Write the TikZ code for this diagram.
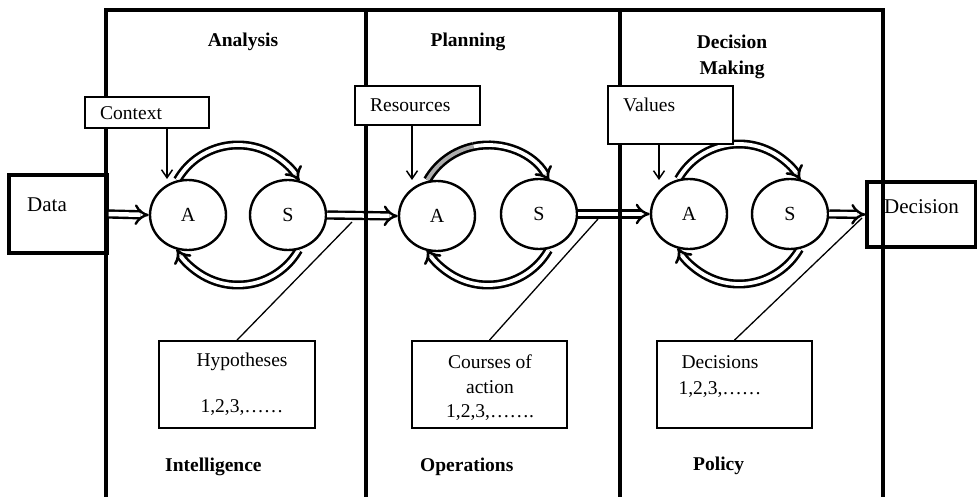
\documentclass[tikz,border=0pt]{standalone}
\usepackage{fontspec}
\setmainfont{Liberation Serif}
\usetikzlibrary{arrows.meta,calc,shapes.geometric}
\begin{document}
\begin{tikzpicture}[x=1pt,y=-1pt,
  txt/.style={font=\fontsize{19.5}{22}\selectfont, inner sep=0pt},
  big/.style={font=\fontsize{21}{24}\selectfont, inner sep=0pt},
  head/.style={font=\fontsize{19.5}{22}\selectfont\bfseries, inner sep=0pt},
  frame/.style={line width=3.2pt},
  io/.style={draw, line width=3.2pt, fill=white, inner sep=0pt},
  note/.style={draw, line width=1.8pt, fill=white, inner sep=0pt},
  proc/.style={draw, ellipse, line width=2.4pt, fill=white, minimum width=76pt,
    minimum height=70pt, inner sep=0pt, font=\fontsize{20}{22}\selectfont},
  flow/.style={line width=2.4pt, double=white, double distance=4.5pt, -{Implies[scale=1.3]}},
  loopseg/.style={line width=2.6pt, double=white, double distance=3.8pt},
  pin/.style={line width=1.5pt, -{Straight Barb[length=8pt,width=11pt]}},
  lead/.style={line width=1.3pt}
]
\useasboundingbox (0,0) rectangle (977,497);

% centres of the three analyse/synthesise loops
\coordinate (c1) at (238,215);
\coordinate (c2) at (488,215);
\coordinate (c3) at (739,214);

% feedback loops (drawn first, the ellipses cover their roots)
\foreach \c in {c1,c3}{
  \draw[loopseg, -{Implies[scale=1.2]}] ($(\c)+(210:70)$) arc[start angle=210, end angle=331, radius=70];
}
\draw[loopseg, double=black!32] ($(c2)+(210:70)$) arc[start angle=210, end angle=258, radius=70];
\draw[loopseg, -{Implies[scale=1.2]}] ($(c2)+(258:70)$) arc[start angle=258, end angle=331, radius=70];
\foreach \c in {c1,c2,c3}{
  \draw[loopseg, -{Implies[scale=1.2]}] ($(\c)+(30:70)$) arc[start angle=30, end angle=151, radius=70];
}

% analyse and synthesise stages
\node[proc] (A1) at (188,215) {A};
\node[proc] (S1) at (288,215) {S};
\node[proc] (A2) at (437,216) {A};
\node[proc] (S2) at (539,214) {S};
\node[proc] (A3) at (689,214) {A};
\node[proc] (S3) at (790,214) {S};

% input and output
\node[io, minimum width=98pt, minimum height=78pt] (data) at (58,214) {};
\node[big, anchor=west] (datat) at (27,205) {Data};
\node[io, minimum width=109pt, minimum height=65pt] (dec) at (921.5,214.5) {};
\node[big, anchor=west] (dect) at (884,207) {Decision};

% main flow
\draw[flow] (data.east) -- (A1.west);
\draw[flow] (S1.east) -- (A2.west);
\draw[flow] (S2.east) -- (A3.west);
\draw[flow] (S3.east) -- (dec.west);

% column frame
\coordinate (f0) at (106,10);
\coordinate (f1) at (366,10);
\coordinate (f2) at (620,10);
\coordinate (f3) at (883,10);
\draw[frame] (106,499) -- (f0) -- (f3) -- (883,499);
\draw[frame] (f1) -- (366,499);
\draw[frame] (f2) -- (620,499);

% column headings
\node[head] (h1) at (243,42) {Analysis};
\node[head] (h2) at (468,42) {Planning};
\node[head] (h3) at (732,42) {Decision};
\node[head] (h3b) at (732,70) {Making};

% inputs from above
\node[note, minimum width=124pt, minimum height=31pt] (ctx) at (147,112.5) {};
\node[txt, anchor=west] (ctxt) at (100,113) {Context};
\node[note, minimum width=125pt, minimum height=39pt] (res) at (417.5,105.5) {};
\node[txt, anchor=west] (rest) at (370,105) {Resources};
\node[note, minimum width=125pt, minimum height=58pt] (val) at (670.5,115) {};
\node[txt, anchor=west] (valt) at (623,105) {Values};

\coordinate (p1) at (167,179);
\coordinate (p2) at (412,180);
\coordinate (p3) at (659,180);
\draw[pin] (ctx.south -| p1) -- (p1);
\draw[pin] (res.south -| p2) -- (p2);
\draw[pin] (val.south -| p3) -- (p3);

% outputs below
\node[note, minimum width=156pt, minimum height=87pt] (hyp) at (237,384.5) {};
\node[txt] (hypt) at (242,362) {Hypotheses};
\node[txt] (hypn) at (242,408) {1,2,3,……};
\node[note, minimum width=155pt, minimum height=87pt] (coa) at (489.5,384.5) {};
\node[txt] (coat) at (490,362) {Courses of};
\node[txt] (coab) at (490,387) {action};
\node[txt] (coan) at (490,413) {1,2,3,…….};
\node[note, minimum width=155pt, minimum height=87pt] (dcs) at (734.5,384.5) {};
\node[txt] (dcst) at (720,362) {Decisions};
\node[txt] (dcsn) at (720,390) {1,2,3,……};

\coordinate (l1) at (352,222);
\coordinate (l2) at (598,219);
\coordinate (l3) at (862,218);
\draw[lead] (l1) -- (hyp.north);
\draw[lead] (l2) -- (coa.north);
\draw[lead] (l3) -- (dcs.north);

% column footers
\node[head, anchor=west] (f1t) at (165,467) {Intelligence};
\node[head, anchor=west] (f2t) at (420,467) {Operations};
\node[head, anchor=west] (f3t) at (693,466) {Policy};
\end{tikzpicture}
\end{document}
